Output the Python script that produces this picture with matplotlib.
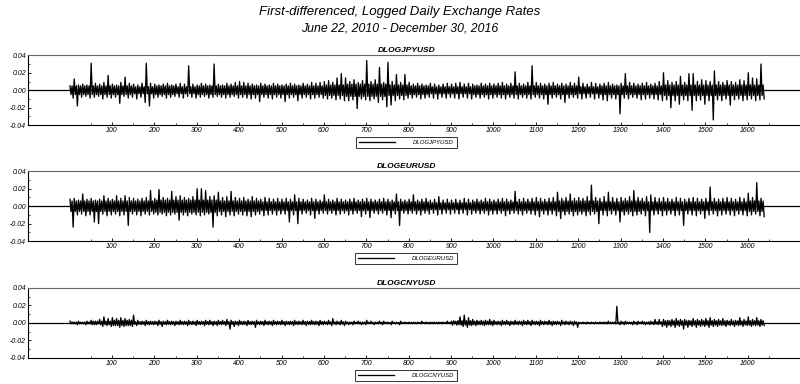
import numpy as np
import matplotlib.pyplot as plt

plt.rcParams['font.family'] = ['Liberation Sans', 'DejaVu Sans']

# ten-day high / low of each first-differenced log series, in units of 0.001
bin_days = 10
n_days = 1640

jpy_hi = [5, 13, 6, 7, 6, 31, 8, 7, 9, 17,
          7, 6, 9, 15, 8, 7, 6, 8, 31, 8,
          7, 6, 7, 8, 6, 7, 8, 7, 28, 7,
          6, 8, 7, 6, 30, 7, 6, 8, 7, 9,
          10, 9, 8, 7, 6, 8, 7, 6, 8, 7,
          6, 7, 8, 7, 6, 8, 7, 9, 8, 9,
          10, 11, 9, 14, 19, 14, 10, 12, 9, 11,
          34, 10, 12, 26, 9, 32, 10, 18, 9, 18,
          9, 7, 8, 7, 6, 8, 7, 6, 7, 8,
          7, 8, 9, 7, 8, 7, 6, 8, 7, 8,
          7, 8, 9, 7, 8, 21, 8, 7, 9, 28,
          9, 8, 7, 8, 9, 7, 8, 7, 9, 8,
          15, 8, 7, 9, 8, 7, 8, 9, 7, 6,
          8, 19, 9, 8, 7, 8, 9, 7, 8, 10,
          20, 11, 9, 10, 16, 9, 19, 19, 10, 12,
          11, 10, 22, 10, 9, 11, 10, 9, 12, 11,
          20, 14, 13, 30]
jpy_lo = [-9, -18, -8, -7, -9, -8, -7, -10, -8, -9,
          -8, -15, -7, -9, -8, -10, -8, -14, -18, -9,
          -8, -7, -9, -8, -7, -8, -9, -7, -8, -9,
          -8, -7, -9, -8, -7, -8, -9, -8, -7, -9,
          -8, -9, -10, -9, -13, -8, -9, -10, -8, -9,
          -13, -9, -8, -12, -9, -8, -10, -9, -8, -9,
          -10, -9, -11, -10, -12, -12, -11, -21, -10, -11,
          -12, -10, -14, -11, -19, -17, -12, -10, -11, -9,
          -9, -8, -10, -9, -8, -9, -10, -8, -9, -8,
          -9, -10, -8, -9, -10, -8, -9, -8, -10, -9,
          -8, -9, -10, -8, -9, -10, -8, -9, -10, -8,
          -9, -10, -16, -9, -8, -10, -14, -9, -8, -9,
          -10, -9, -8, -10, -9, -11, -12, -9, -10, -27,
          -9, -10, -8, -9, -11, -10, -9, -10, -11, -12,
          -11, -20, -12, -16, -11, -12, -23, -12, -11, -16,
          -12, -34, -11, -12, -10, -17, -11, -10, -12, -11,
          -10, -12, -11, -10]

eur_hi = [8, 9, 7, 14, 8, 9, 7, 8, 12, 9,
          8, 12, 9, 12, 10, 9, 8, 9, 10, 18,
          9, 19, 10, 9, 17, 11, 12, 10, 9, 11,
          20, 20, 18, 11, 12, 16, 10, 11, 17, 10,
          9, 10, 8, 11, 9, 8, 10, 9, 8, 9,
          8, 9, 8, 13, 9, 8, 7, 9, 8, 7,
          13, 8, 7, 9, 8, 7, 8, 9, 7, 8,
          9, 8, 7, 8, 9, 8, 7, 14, 8, 7,
          8, 13, 7, 8, 9, 7, 8, 11, 7, 8,
          7, 8, 7, 9, 8, 7, 8, 7, 9, 8,
          7, 8, 9, 8, 7, 17, 8, 9, 8, 9,
          10, 9, 8, 9, 10, 16, 9, 10, 14, 9,
          10, 9, 11, 24, 10, 9, 11, 16, 10, 9,
          10, 9, 11, 18, 10, 9, 11, 13, 10, 9,
          10, 9, 8, 10, 9, 8, 9, 10, 9, 8,
          9, 22, 9, 8, 9, 10, 9, 8, 10, 9,
          15, 10, 27, 9]
eur_lo = [-24, -10, -9, -11, -10, -18, -20, -9, -11, -10,
          -9, -11, -10, -22, -9, -10, -11, -9, -10, -9,
          -10, -9, -11, -10, -9, -16, -10, -11, -9, -10,
          -11, -10, -9, -24, -11, -10, -12, -10, -11, -9,
          -10, -11, -12, -10, -9, -11, -10, -9, -10, -9,
          -9, -18, -10, -20, -9, -8, -10, -14, -9, -8,
          -9, -8, -10, -9, -8, -10, -9, -8, -12, -9,
          -13, -8, -9, -8, -10, -13, -9, -22, -8, -9,
          -8, -9, -10, -8, -9, -8, -10, -9, -8, -9,
          -8, -9, -8, -10, -9, -8, -9, -8, -10, -9,
          -9, -8, -11, -9, -8, -9, -10, -8, -9, -10,
          -12, -9, -10, -9, -11, -14, -10, -9, -11, -10,
          -9, -11, -10, -9, -20, -10, -11, -9, -10, -18,
          -10, -9, -11, -10, -9, -11, -30, -10, -9, -11,
          -10, -9, -11, -10, -22, -9, -10, -11, -9, -14,
          -10, -9, -11, -10, -9, -10, -11, -9, -10, -11,
          -10, -9, -11, -12]

cny_hi = [2, 1, 2, 1, 2, 3, 2, 4, 7, 5,
          6, 5, 6, 5, 4, 9, 3, 2, 3, 2,
          2, 3, 2, 3, 2, 2, 3, 2, 3, 2,
          3, 2, 3, 3, 2, 3, 3, 4, 3, 2,
          3, 2, 3, 2, 3, 2, 3, 2, 3, 2,
          3, 2, 2, 3, 2, 3, 2, 3, 2, 3,
          2, 3, 5, 2, 3, 2, 1, 2, 2, 1,
          3, 2, 1, 2, 2, 1, 2, 1, 2, 1,
          1, 1, 1, 2, 1, 1, 1, 1, 1, 2,
          2, 2, 7, 9, 6, 4, 3, 3, 3, 4,
          3, 2, 3, 3, 2, 3, 2, 3, 3, 3,
          2, 3, 2, 3, 2, 2, 3, 2, 2, 2,
          1, 1, 1, 1, 1, 1, 1, 2, 1, 19,
          2, 2, 1, 2, 2, 2, 1, 2, 4, 4,
          4, 3, 4, 5, 4, 4, 3, 5, 4, 4,
          5, 6, 4, 4, 5, 3, 4, 3, 6, 4,
          7, 4, 6, 4]
cny_lo = [-1, -2, -1, -2, -1, -2, -1, -4, -3, -4,
          -3, -5, -4, -3, -4, -3, -2, -3, -2, -2,
          -3, -4, -2, -2, -3, -2, -2, -3, -2, -3,
          -2, -3, -2, -3, -3, -2, -3, -7, -4, -3,
          -2, -3, -2, -5, -2, -3, -2, -3, -2, -2,
          -3, -2, -3, -2, -2, -3, -2, -2, -3, -2,
          -2, -3, -2, -2, -3, -2, -2, -1, -2, -2,
          -1, -2, -1, -2, -1, -2, -1, -2, -1, -1,
          -1, -1, -1, -1, -1, -1, -1, -1, -1, -1,
          -1, -2, -4, -5, -3, -3, -2, -3, -2, -3,
          -2, -3, -2, -3, -2, -2, -3, -2, -3, -2,
          -3, -2, -2, -3, -2, -3, -2, -2, -3, -5,
          -1, -1, -1, -1, -1, -1, -1, -1, -1, -2,
          -2, -1, -2, -2, -1, -2, -2, -2, -2, -4,
          -5, -4, -5, -4, -7, -5, -4, -5, -4, -4,
          -5, -4, -4, -3, -4, -3, -4, -3, -4, -3,
          -4, -3, -4, -3]

# typical size of the day-to-day moves over 50-day blocks, in units of 0.001
block_days = 50
jpy_core = [5, 5, 5, 4, 5, 4, 5, 5, 5, 5, 5, 5, 6, 7, 7, 6, 5,
            4, 4, 5, 5, 5, 5, 5, 4, 5, 5, 5, 6, 6, 6, 6, 6]
eur_core = [6, 6, 6, 6, 7, 7, 7, 6, 6, 5, 5, 5, 5, 5, 5, 5, 5,
            4, 4, 5, 5, 5, 5, 6, 6, 5, 6, 5, 5, 5, 5, 5, 6]
cny_core = [1, 2, 3, 1.5, 1.5, 1.5, 1.5, 1.5, 1.5, 1.5, 1.5, 1.5, 1.2, 1, 0.8, 0.6, 0.6,
            0.7, 2.5, 2, 1.5, 1.5, 1.5, 1.2, 0.5, 0.8, 1, 1.2, 2.5, 2.5, 2.5, 2.2, 2.5]

names = ['DLOGJPYUSD', 'DLOGEURUSD', 'DLOGCNYUSD']
series = [(jpy_hi, jpy_lo, jpy_core), (eur_hi, eur_lo, eur_core),
          (cny_hi, cny_lo, cny_core)]
y_ticks = [-0.04, -0.02, 0.00, 0.02, 0.04]
x_ticks = list(range(100, 1700, 100))


def trace(hi, lo, core):
    # each ten-day bin: swing to its high, two typical-sized moves, then its low
    start = np.arange(len(hi)) * bin_days
    c = np.repeat(core, block_days // bin_days)[:len(hi)]
    x = np.empty(4 * len(hi))
    y = np.empty(4 * len(hi))
    x[0::4] = start + 1
    x[1::4] = start + 3.5
    x[2::4] = start + 6
    x[3::4] = start + 8.5
    y[0::4] = hi
    y[1::4] = -c
    y[2::4] = c
    y[3::4] = lo
    return x, y * 0.001


fig = plt.figure(figsize=(8, 3.84), dpi=100)
fig.text(0.5, 0.968, 'First-differenced, Logged Daily Exchange Rates',
         ha='center', va='center', fontsize=9.5, style='italic')
fig.text(0.5, 0.925, 'June 22, 2010 - December 30, 2016',
         ha='center', va='center', fontsize=8.8, style='italic')

bottoms = [0.674, 0.372, 0.068]
for name, (hi, lo, core), b in zip(names, series, bottoms):
    ax = fig.add_axes([0.035, b, 0.965, 0.182])
    ax.axhline(0, color='black', lw=0.9, zorder=1)
    x, y = trace(hi, lo, core)
    ax.plot(x, y, color='black', lw=0.95, label=name, zorder=3)

    ax.set_xlim(-98, 1723)
    ax.set_ylim(-0.04, 0.04)
    ax.set_yticks(y_ticks)
    ax.set_yticklabels(['%.2f' % v for v in y_ticks], fontsize=5, style='italic')
    ax.set_yticks(np.arange(-0.04, 0.041, 0.01), minor=True)
    ax.set_xticks(x_ticks)
    ax.set_xticklabels([str(v) for v in x_ticks], fontsize=5, style='italic')
    ax.set_xticks(list(range(50, 1700, 100)), minor=True)
    ax.tick_params(which='major', length=2.5, width=0.6, pad=1.5, direction='in')
    ax.tick_params(which='minor', length=1.5, width=0.5, direction='in')
    ax.spines['right'].set_visible(False)
    ax.spines['top'].set_color('#666666')
    for s in ['left', 'bottom', 'top']:
        ax.spines[s].set_linewidth(0.8)
    ax.set_title(name, fontsize=6, style='italic', fontweight='bold',
                 pad=2.5, x=0.49)
    leg = ax.legend(loc='upper center', bbox_to_anchor=(0.49, -0.13),
                    prop={'style': 'italic', 'size': 4.3},
                    frameon=True, fancybox=False, edgecolor='black',
                    handlelength=6, borderpad=0.5, handletextpad=3)
    leg.get_frame().set_linewidth(0.7)

fig.savefig('out.png', dpi=100)
